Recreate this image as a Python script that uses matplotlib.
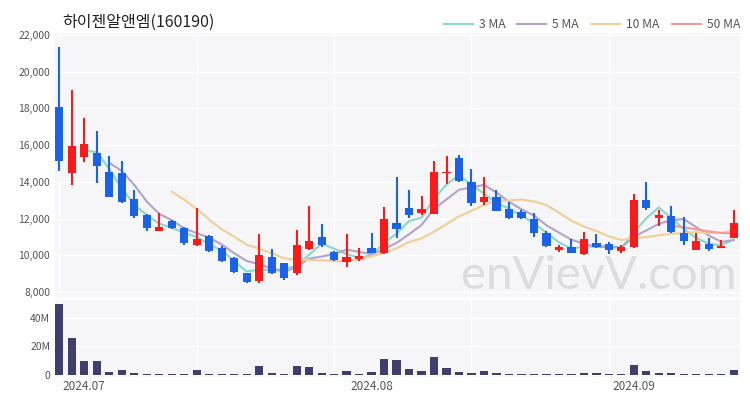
import numpy as np
import pandas as pd
import matplotlib
matplotlib.use("Agg")
import matplotlib.pyplot as plt
from matplotlib.ticker import FuncFormatter

# ==========================================
# 1. Data
# ==========================================
TITLE = "하이젠알앤엠(160190)"

dates = (["2024-06-27", "2024-06-28"]
         + [d.strftime("%Y-%m-%d") for d in pd.bdate_range("2024-07-01", "2024-07-31")]
         + [d.strftime("%Y-%m-%d") for d in pd.bdate_range("2024-08-01", "2024-08-30")
            if d.strftime("%m-%d") != "08-15"]
         + [d.strftime("%Y-%m-%d") for d in pd.bdate_range("2024-09-02", "2024-09-12")])

opens = [18090, 14500, 15370, 15590, 14550, 14460, 13060, 12190, 11320, 11860,
         11500, 10555, 11045, 10370, 9830, 9010, 8610, 9880, 9555, 9010,
         10340, 10970, 10190, 9610, 9790, 10420, 10100, 11770, 12550, 12280,
         12245, 14460, 15280, 13970, 12915, 13190, 12500, 12370, 11970, 11225,
         10280, 10430, 10045, 10680, 10590, 10245, 10460, 13010, 12010, 12135,
         11190, 10280, 10610, 10410, 10920]
highs = [21360, 19000, 17500, 16770, 15400, 15130, 13550, 12250, 12280, 11920,
         11550, 12550, 11080, 10500, 9880, 9050, 11150, 10340, 9600, 11370,
         12680, 11700, 10250, 11150, 10370, 11190, 12640, 14240, 13550, 13225,
         15150, 15420, 15460, 14680, 14240, 13550, 12915, 12460, 12280, 11320,
         10555, 10860, 11280, 11140, 10735, 10555, 13335, 13970, 12460, 12700,
         12060, 11190, 10920, 10830, 12460]
lows = [14600, 13825, 15100, 13920, 13150, 12830, 12040, 11320, 11320, 11420,
        10555, 10520, 10200, 9650, 9060, 8470, 8500, 9000, 8650, 8920,
        10300, 10460, 9700, 9340, 9680, 10100, 10060, 10920, 12010, 12200,
        12245, 13880, 14000, 12680, 12735, 12400, 11980, 11980, 10970, 10450,
        10160, 10100, 10000, 10400, 10045, 10100, 10420, 12460, 11590, 11240,
        10555, 10280, 10245, 10380, 10920]
closes = [15150, 15950, 16040, 14860, 13190, 12915, 12150, 11500, 11520, 11460,
          10680, 10860, 10245, 9680, 9100, 8555, 10010, 9010, 8740, 10555,
          10790, 10555, 9740, 9880, 9970, 10150, 11950, 11430, 12220, 12500,
          14515, 14550, 14060, 12860, 13190, 12425, 12040, 12010, 11190, 10500,
          10430, 10135, 10860, 10430, 10280, 10460, 13010, 12590, 12220, 11280,
          10770, 10770, 10340, 10515, 11735]
volumes_m = [49.5, 25.6, 10.0, 10.0, 2.3, 3.5, 1.6, 1.0, 1.0, 0.7,
             0.7, 3.5, 0.5, 0.4, 0.4, 0.4, 6.3, 1.2, 0.4, 6.5,
             5.8, 1.6, 0.4, 2.8, 0.5, 2.3, 11.1, 10.4, 4.2, 2.8,
             12.3, 5.1, 2.3, 1.6, 3.0, 1.2, 1.0, 1.0, 1.0, 0.7,
             0.4, 0.4, 1.4, 1.2, 0.7, 0.5, 7.0, 3.0, 1.2, 1.2,
             1.0, 0.5, 0.4, 0.4, 3.7]

ma_windows = [3, 5, 10, 50]
ma_colors = ["#86d9cb", "#b3a3cc", "#f1cd98", "#f39a92"]

month_labels = ["2024.07", "2024.08", "2024.09"]
month_starts = ["2024-07-01", "2024-08-01", "2024-09-02"]

# ==========================================
# 2. Styling
# ==========================================
UP = "#fa1a1a"
DOWN = "#1a62e6"
VOL = "#3f3f6e"
BG = "#f6f6f8"
TXT = "#555555"
plt.rcParams['font.family'] = ['Noto Sans CJK KR', 'DejaVu Sans']

df = pd.DataFrame({"date": dates, "open": opens, "high": highs,
                   "low": lows, "close": closes, "vol": np.array(volumes_m) * 1e6})
x = np.arange(len(df))
up = df["close"] >= df["open"]
colors = np.where(up, UP, DOWN)

fig = plt.figure(figsize=(7.5, 4), dpi=100)
ax = fig.add_axes([55 / 750, 1 - 297 / 400, 685 / 750, 264 / 400])
axv = fig.add_axes([55 / 750, 1 - 377 / 400, 685 / 750, 77 / 400])

for a in (ax, axv):
    a.set_facecolor(BG)
    for s in a.spines.values():
        s.set_visible(False)
    a.tick_params(length=0, labelsize=7.5, labelcolor=TXT)
    a.set_xlim(-0.35, len(df) - 0.5)
    for gx in range(0, len(df), 11):
        a.axvline(gx, color="white", lw=1, zorder=0)

# --- candles ---
ax.vlines(x, df["low"], df["high"], colors=colors, lw=1.5, zorder=3)
body = np.maximum((df["close"] - df["open"]).abs(), 50)
ax.bar(x, body, bottom=np.minimum(df["open"], df["close"]), width=0.66,
       color=colors, zorder=4)

# --- moving averages ---
for w, c in zip(ma_windows, ma_colors):
    ma = df["close"].rolling(w).mean()
    ax.plot(x, ma, color=c, lw=1.5, label=f"{w} MA", zorder=2)

ax.set_ylim(7727, 22109)
ax.set_yticks(range(8000, 22001, 2000))
ax.yaxis.set_major_formatter(FuncFormatter(lambda v, p: f"{int(v):,}"))
ax.grid(axis="y", color="white", lw=1)
ax.set_axisbelow(True)
ax.set_xticks([])

leg = ax.legend(loc="center right", bbox_to_anchor=(1.0, 1 + 8 / 264), ncol=4, frameon=False,
                fontsize=8.7, handlelength=2.4, columnspacing=1.0, handletextpad=0.5,
                borderaxespad=0.0, borderpad=0.0, labelcolor=TXT)

# --- volume ---
axv.bar(x, df["vol"], width=0.66, color=VOL, zorder=3)
axv.set_ylim(-1.4e6, 52.3e6)
axv.set_yticks([0, 20e6, 40e6])
axv.yaxis.set_major_formatter(FuncFormatter(lambda v, p: "0" if v == 0 else f"{int(v / 1e6)}M"))
axv.grid(axis="y", color="white", lw=1)
axv.set_axisbelow(True)
axv.set_xticks([dates.index(d) for d in month_starts])
axv.set_xticklabels(month_labels)
axv.tick_params(axis="x", pad=2, labelsize=8.5)

# --- title & watermark ---
fig.text(62 / 750, 1 - 22 / 400, TITLE, fontsize=11.5, color="#222222", va="center")
fig.text(737 / 750, 1 - 289 / 400, "enVievV.com", fontsize=34, color="#d6d6d6",
         ha="right", va="baseline", family=["Lato", "DejaVu Sans"], alpha=0.8, zorder=10)

fig.savefig("out.png", dpi=100)
